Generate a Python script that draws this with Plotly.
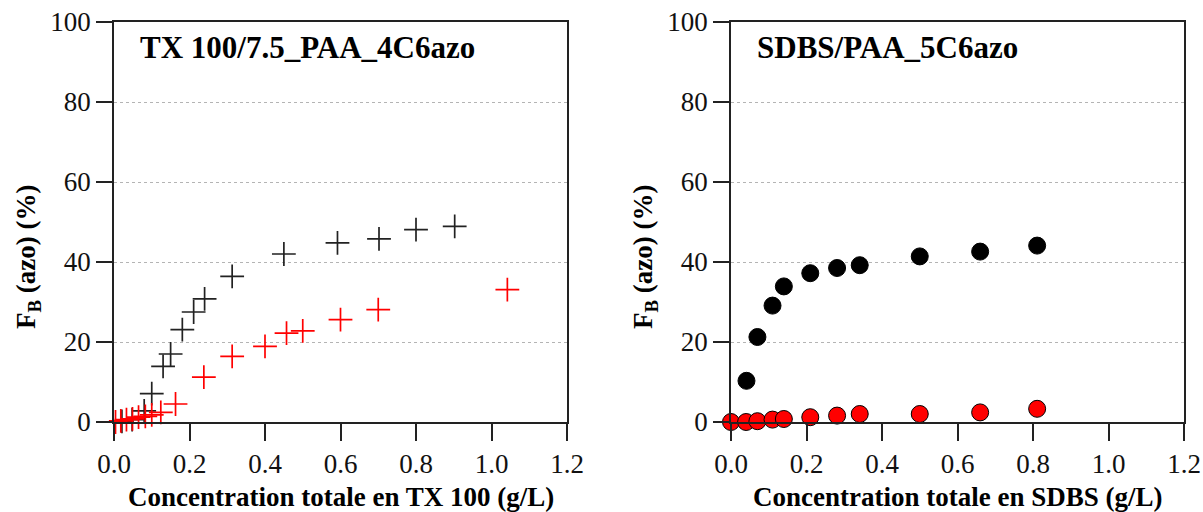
import plotly.graph_objects as go

# Left panel: TX 100 / 7.5_PAA_4C6azo
tx_black_x = [0.021, 0.048, 0.08, 0.10, 0.13, 0.15, 0.181, 0.211, 0.24, 0.313, 0.45, 0.592, 0.702, 0.80, 0.9025]
tx_black_y = [0.15, 0.6, 2.8, 7.1, 13.9, 17.0, 23.1, 27.5, 30.8, 36.4, 42.0, 44.8, 45.8, 48.1, 48.9]
tx_red_x = [0.004, 0.018, 0.033, 0.049, 0.065, 0.083, 0.10, 0.124, 0.163, 0.238, 0.313, 0.40, 0.457, 0.50, 0.60, 0.70, 1.042]
tx_red_y = [0.0, 0.3, 0.6, 0.8, 1.2, 1.4, 1.8, 2.4, 4.5, 11.2, 16.4, 18.9, 22.2, 22.8, 25.6, 28.1, 33.1]

# Right panel: SDBS / PAA_5C6azo
sd_black_x = [0.041, 0.07, 0.11, 0.14, 0.21, 0.281, 0.341, 0.50, 0.66, 0.811]
sd_black_y = [10.3, 21.25, 29.1, 33.9, 37.2, 38.5, 39.2, 41.4, 42.6, 44.1]
sd_red_x = [0.0, 0.04, 0.07, 0.11, 0.14, 0.21, 0.281, 0.341, 0.50, 0.66, 0.811]
sd_red_y = [0.0, 0.0, 0.2, 0.6, 0.75, 1.2, 1.6, 2.0, 2.0, 2.4, 3.3]

x_ticks = [0.0, 0.2, 0.4, 0.6, 0.8, 1.0, 1.2]
y_ticks = [0, 20, 40, 60, 80, 100]

panel_titles = ["TX 100/7.5_PAA_4C6azo", "SDBS/PAA_5C6azo"]
x_titles = ["Concentration totale en TX 100 (g/L)", "Concentration totale en SDBS (g/L)"]
y_title = "F<sub>B</sub> (azo) (%)"

FONT = "Liberation Serif, Times New Roman, DejaVu Serif, serif"
W, H = 1203, 512
AX = "#222222"
TOP, BOT = 22, 422

fig = go.Figure()
fig.add_trace(go.Scatter(x=tx_black_x, y=tx_black_y, mode="markers", xaxis="x", yaxis="y",
                         marker=dict(symbol="cross-thin", size=17, line=dict(color="#222222", width=1.7)),
                         cliponaxis=False, showlegend=False))
fig.add_trace(go.Scatter(x=tx_red_x, y=tx_red_y, mode="markers", xaxis="x", yaxis="y",
                         marker=dict(symbol="cross-thin", size=17, line=dict(color="#ff0000", width=1.7)),
                         cliponaxis=False, showlegend=False))
fig.add_trace(go.Scatter(x=sd_black_x, y=sd_black_y, mode="markers", xaxis="x2", yaxis="y2",
                         marker=dict(symbol="circle", size=17, color="#000000", line=dict(color="#000000", width=1)),
                         cliponaxis=False, showlegend=False))
fig.add_trace(go.Scatter(x=sd_red_x, y=sd_red_y, mode="markers", xaxis="x2", yaxis="y2",
                         marker=dict(symbol="circle", size=17, color="#ff0000", line=dict(color="#000000", width=1)),
                         cliponaxis=False, showlegend=False))

def xax(domain, anchor):
    return dict(domain=domain, anchor=anchor, range=[0, 1.2], tickvals=x_ticks,
                ticktext=[f"{v:.1f}" for v in x_ticks], ticks="outside", ticklen=17, tickwidth=1.5,
                tickcolor=AX, showline=True, linecolor=AX, linewidth=1.5, mirror=True,
                showgrid=False, zeroline=False, automargin=False, ticklabeloverflow="allow",
                tickfont=dict(family=FONT, size=27, color="#111"), fixedrange=True)

def yax(anchor):
    return dict(domain=[0, 1], anchor=anchor, range=[0, 100], tickvals=y_ticks, ticks="outside",
                ticklen=16, tickwidth=1.5, tickcolor=AX, showline=True, linecolor=AX, linewidth=1.5,
                mirror=True, showgrid=True, gridcolor="#b4b4b4", griddash="dot", gridwidth=1.2,
                zeroline=False, automargin=False, ticklabeloverflow="allow",
                tickfont=dict(family=FONT, size=27, color="#111"), fixedrange=True)

def px(p):
    return p / W

def py(p):
    return (BOT - p) / (BOT - TOP)

d1 = [px(114), px(567)]
d2 = [px(731), px(1184)]

annotations = []
for i, (d, px_title, px_y) in enumerate([(d1, 138, 28), (d2, 755, 645)]):
    annotations.append(dict(text=f"<b>{panel_titles[i]}</b>", x=px(px_title), y=py(48), xref="paper",
                            yref="paper", xanchor="left", yanchor="middle", showarrow=False,
                            font=dict(family=FONT, size=31, color="#000")))
    annotations.append(dict(text=f"<b>{x_titles[i]}</b>", x=(d[0] + d[1]) / 2, y=py(497), xref="paper",
                            yref="paper", xanchor="center", yanchor="middle", showarrow=False,
                            font=dict(family=FONT, size=27, color="#000")))
    annotations.append(dict(text=f"<b>{y_title}</b>", x=px(px_y), y=py(257), xref="paper", yref="paper",
                            xanchor="center", yanchor="middle", textangle=-90, showarrow=False,
                            font=dict(family=FONT, size=27, color="#000")))

fig.update_layout(
    width=W, height=H,
    margin=dict(l=0, r=0, t=TOP, b=H - BOT, autoexpand=False),
    paper_bgcolor="white", plot_bgcolor="white",
    xaxis=xax(d1, "y"), yaxis=yax("x"),
    xaxis2=xax(d2, "y2"), yaxis2=yax("x2"),
    annotations=annotations,
)

fig.write_html("out.html", config={"displayModeBar": False},
               post_script="document.body.style.margin='0';document.body.style.overflow='hidden';")
